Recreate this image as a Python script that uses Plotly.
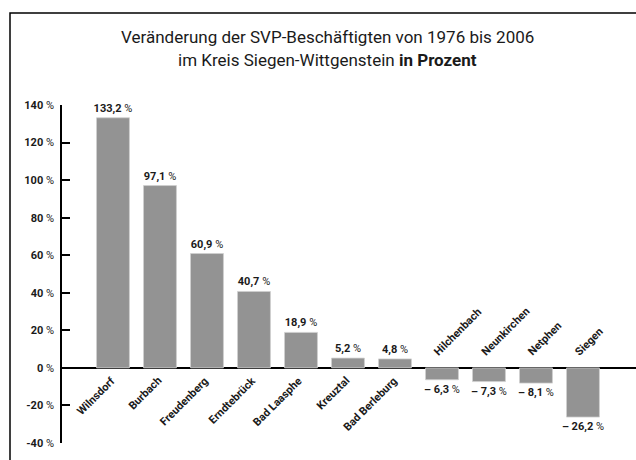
import plotly.graph_objects as go

categories = ["Wilnsdorf", "Burbach", "Freudenberg", "Erndtebrück", "Bad Laasphe",
              "Kreuztal", "Bad Berleburg", "Hilchenbach", "Neunkirchen", "Netphen", "Siegen"]
values = [133.2, 97.1, 60.9, 40.7, 18.9, 5.2, 4.8, -6.3, -7.3, -8.1, -26.2]
value_labels = ["133,2 %", "97,1 %", "60,9 %", "40,7 %", "18,9 %", "5,2 %", "4,8 %",
                "– 6,3 %", "– 7,3 %", "– 8,1 %", "– 26,2 %"]
tick_vals = [-40, -20, 0, 20, 40, 60, 80, 100, 120, 140]
tick_text = ["-40 %", "-20 %", "0 %", "20 %", "40 %", "60 %", "80 %", "100 %", "120 %", "140 %"]

FONT = "Roboto"
xs = list(range(len(categories)))

fig = go.Figure()
fig.add_trace(go.Bar(
    x=xs, y=values, width=0.70,
    marker=dict(color="#939393", line=dict(color="#cfcfcf", width=0.8)),
    text=["<b>" + t.replace(" %", "") + "</b> %" for t in value_labels],
    texttemplate="%{text}", textposition="outside", textangle=0,
    constraintext="none", cliponaxis=False,
    textfont=dict(family=FONT, size=11, color="#1a1a1a"),
    hoverinfo="skip",
))

annotations = []
for i, (c, v) in enumerate(zip(categories, values)):
    if v >= 0:
        annotations.append(dict(x=i, y=0, xref="x", yref="y", text="<b>" + c + "</b>",
                                textangle=-45, xanchor="right", yanchor="top",
                                xshift=7, yshift=-4, showarrow=False,
                                font=dict(family=FONT, size=11, color="#1a1a1a")))
    else:
        annotations.append(dict(x=i, y=0, xref="x", yref="y", text="<b>" + c + "</b>",
                                textangle=-45, xanchor="left", yanchor="bottom",
                                xshift=-13, yshift=7, showarrow=False,
                                font=dict(family=FONT, size=11, color="#1a1a1a")))

fig.update_layout(
    width=636, height=460,
    margin=dict(l=62, r=0, t=105, b=17),
    paper_bgcolor="white", plot_bgcolor="white",
    showlegend=False,
    xaxis=dict(range=[-1.085, 11.128], showticklabels=False, showgrid=False,
               zeroline=False, showline=False, ticks=""),
    yaxis=dict(range=[-40, 140], tickvals=tick_vals,
               ticktext=["<b>" + t.replace(" %", "") + "</b> %" for t in tick_text],
               ticks="inside", ticklen=8, tickwidth=1.5, tickcolor="black",
               showline=True, linecolor="black", linewidth=1.5,
               showgrid=False, zeroline=True, zerolinecolor="black", zerolinewidth=1.5,
               ticklabelstandoff=4, automargin=False,
               tickfont=dict(family=FONT, size=11, color="#1a1a1a")),
)

ph = 460 - 105 - 17
pw = 636 - 62
def px_to_paper(x, y):
    return (x - 62) / pw, 1 + (105 - y) / ph

tx, ty1 = px_to_paper(327, 37)
_, ty2 = px_to_paper(327, 60)
annotations.append(dict(x=tx, y=ty1, xref="paper", yref="paper",
                        text="Veränderung der SVP-Beschäftigten von 1976 bis 2006",
                        showarrow=False, xanchor="center", yanchor="middle",
                        font=dict(family=FONT, size=17, color="#1a1a1a")))
annotations.append(dict(x=tx, y=ty2, xref="paper", yref="paper",
                        text="im Kreis Siegen-Wittgenstein <b>in Prozent</b>",
                        showarrow=False, xanchor="center", yanchor="middle",
                        font=dict(family=FONT, size=17, color="#1a1a1a")))
fig.update_layout(annotations=annotations)

fx0, fy0 = px_to_paper(10, 13)
fig.add_shape(type="rect", xref="paper", yref="paper",
              x0=fx0, y0=-0.2, x1=1.2, y1=fy0,
              line=dict(color="black", width=1.5), fillcolor="rgba(0,0,0,0)", layer="above")

fig.write_html("out.html", config={"displayModeBar": False},
               post_script="document.body.style.margin='0';document.body.style.overflow='hidden';")
